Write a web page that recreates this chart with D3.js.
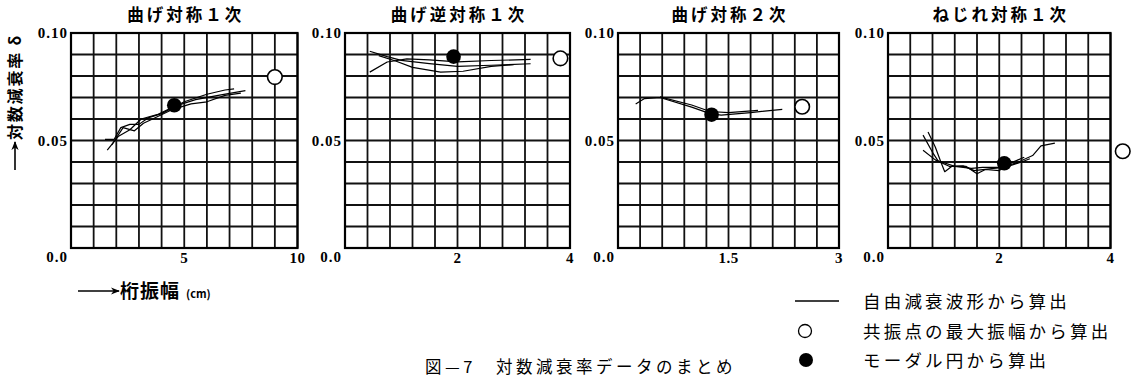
<!DOCTYPE html>
<html>
<head>
<meta charset="utf-8">
<script src="https://cdn.jsdelivr.net/npm/d3@7"></script>
<style>
  html, body { margin: 0; padding: 0; background: #fff; }
  svg { display: block; }
  .jp { font-family: "Noto Sans CJK JP", sans-serif; }
  .num { font-family: "Liberation Serif", "DejaVu Serif", serif; font-weight: bold; }
</style>
</head>
<body>
<svg id="chart" width="1134" height="379"></svg>
<script>
// Mode names, one per panel
const titles = ["曲げ対称１次", "曲げ逆対称１次", "曲げ対称２次", "ねじれ対称１次"];
// Upper end of each panel's girder-amplitude axis (cm)
const xMaxes = [10, 4, 3, 4];
// Labels shown at the middle and right edge of each x axis
const xTickLabels = [["5", "10"], ["2", "4"], ["1.5", "3"], ["2", "4"]];
// Log-decrement axis labels (bottom, middle, top)
const yTickLabels = ["0.0", "0.05", "0.10"];

// Free-decay waveform results: [amplitude, δ] polylines per panel
const freeDecay1 = [
  [[1.6, 0.0455], [2.1, 0.052], [2.6, 0.055], [3.1, 0.060], [3.8, 0.062], [4.6, 0.066], [5.5, 0.069], [6.5, 0.071], [7.7, 0.0732]],
  [[1.5, 0.0505], [1.9, 0.0505], [2.2, 0.056], [2.6, 0.0575], [3.0, 0.0575], [3.4, 0.0605], [4.0, 0.0625], [5.0, 0.068], [6.0, 0.0715], [6.8, 0.0735], [7.2, 0.074]],
  [[1.8, 0.048], [2.3, 0.056], [2.8, 0.0545], [3.2, 0.058], [3.6, 0.060], [4.5, 0.0645], [5.3, 0.067], [6.0, 0.068], [6.8, 0.071], [7.5, 0.072]]
];
const freeDecay2 = [
  [[0.44, 0.0915], [0.75, 0.089], [1.0, 0.0873], [1.5, 0.0858], [2.0, 0.0845], [2.6, 0.085], [3.3, 0.0857]],
  [[0.44, 0.0818], [0.75, 0.0865], [1.1, 0.088], [1.5, 0.0875], [2.0, 0.0866], [2.6, 0.0872], [3.3, 0.0877]],
  [[0.6, 0.0895], [0.9, 0.087], [1.2, 0.084], [1.7, 0.0818], [2.1, 0.0822], [2.6, 0.0845], [3.0, 0.0853]]
];
const freeDecay3 = [
  [[0.24, 0.067], [0.36, 0.0695], [0.57, 0.070], [1.0, 0.0655], [1.25, 0.0625], [1.4, 0.0618], [1.8, 0.063], [2.23, 0.0645]],
  [[0.57, 0.0703], [1.0, 0.0665], [1.25, 0.0635], [1.5, 0.063], [1.9, 0.064]]
];
const freeDecay4 = [
  [[0.72, 0.054], [0.85, 0.047], [0.95, 0.040], [1.02, 0.0355], [1.15, 0.038], [1.4, 0.038], [1.6, 0.0345], [1.75, 0.0365], [2.0, 0.036], [2.2, 0.0395], [2.45, 0.0422]],
  [[0.63, 0.0525], [0.8, 0.0445], [0.9, 0.0405], [1.2, 0.038], [1.5, 0.037], [1.7, 0.0375], [2.0, 0.0375], [2.3, 0.0395], [2.6, 0.043], [2.75, 0.0475], [3.0, 0.0488]],
  [[0.63, 0.0455], [0.85, 0.041], [1.1, 0.038], [1.35, 0.0382], [1.55, 0.036], [1.9, 0.037], [2.1, 0.0375], [2.4, 0.040], [2.55, 0.0415]]
];
const freeDecay = [freeDecay1, freeDecay2, freeDecay3, freeDecay4];

// Maximum amplitude at resonance (open circles)
const resonancePoints = [[9.0, 0.0795], [3.83, 0.0882], [2.5, 0.0657], [4.22, 0.045]];
// Modal circle fit (filled circles)
const modalPoints = [[4.56, 0.0664], [1.93, 0.089], [1.27, 0.062], [2.09, 0.0394]];

// Legend entries
const legendTexts = ["自由減衰波形から算出", "共振点の最大振幅から算出", "モーダル円から算出"];
const captionText = "図—7　対数減衰率データのまとめ";
const xAxisTitle = "桁振幅";
const xAxisUnit = "(cm)";
const yAxisTitle = "対数減衰率 δ";

// ---------------- layout ----------------
const svg = d3.select("#chart");
const panelLefts = [71, 345, 618, 888];
const panelWidths = [226.5, 225, 221, 222.5];
const plotTop = 33, plotBottom = 248;

const y = d3.scaleLinear().domain([0, 0.1]).range([plotBottom, plotTop]);
const lineGen = d3.line();

// arrow marker
const defs = svg.append("defs");
defs.append("marker")
  .attr("id", "arrow").attr("viewBox", "0 0 10 10")
  .attr("refX", 9).attr("refY", 5)
  .attr("markerWidth", 9).attr("markerHeight", 9)
  .attr("markerUnits", "userSpaceOnUse")
  .attr("orient", "auto")
  .append("path").attr("d", "M0,1 L10,5 L0,9 L3,5 Z").attr("fill", "#000");

titles.forEach((title, i) => {
  const x0 = panelLefts[i], w = panelWidths[i];
  const x = d3.scaleLinear().domain([0, xMaxes[i]]).range([x0, x0 + w]);
  const g = svg.append("g");

  // grid: 10 x 10 cells
  const xGrid = d3.range(0, 11).map(k => xMaxes[i] * k / 10);
  const yGrid = d3.range(0, 11).map(k => 0.01 * k);
  g.selectAll(".vg").data(xGrid).join("line")
    .attr("x1", d => x(d)).attr("x2", d => x(d))
    .attr("y1", plotTop).attr("y2", plotBottom)
    .attr("stroke", "#111").attr("stroke-width", 1.8);
  g.selectAll(".hg").data(yGrid).join("line")
    .attr("x1", x0).attr("x2", x0 + w)
    .attr("y1", d => y(d)).attr("y2", d => y(d))
    .attr("stroke", "#111").attr("stroke-width", 1.8);
  g.append("rect")
    .attr("x", x0).attr("y", plotTop).attr("width", w).attr("height", plotBottom - plotTop)
    .attr("fill", "none").attr("stroke", "#000").attr("stroke-width", 2.2);

  // y tick labels
  const yVals = [0, 0.05, 0.1];
  g.selectAll(".yl").data(yVals).join("text")
    .attr("class", "num")
    .attr("font-family", "Liberation Serif")
    .attr("x", x0 - 3)
    .attr("y", (d, k) => k === 0 ? y(d) + 14 : y(d) + 5)
    .attr("text-anchor", "end")
    .attr("font-size", 15)
    .attr("letter-spacing", 1)
    .text((d, k) => yTickLabels[k]);

  // x tick labels (middle and right end)
  const xVals = [xMaxes[i] / 2, xMaxes[i]];
  g.selectAll(".xl").data(xVals).join("text")
    .attr("class", "num")
    .attr("font-family", "Liberation Serif")
    .attr("x", d => x(d))
    .attr("y", plotBottom + 15)
    .attr("text-anchor", "middle")
    .attr("font-size", 15)
    .attr("letter-spacing", 0.5)
    .text((d, k) => xTickLabels[i][k]);

  // title
  g.append("text")
    .attr("class", "jp")
    .attr("x", x0 + w / 2 + 1.5)
    .attr("y", 21)
    .attr("text-anchor", "middle")
    .attr("font-size", 16.5)
    .attr("font-weight", "bold")
    .attr("letter-spacing", 3)
    .text(title);

  // free-decay polylines
  g.selectAll(".fd").data(freeDecay[i]).join("path")
    .attr("d", d => lineGen(d.map(p => [x(p[0]), y(p[1])])))
    .attr("fill", "none").attr("stroke", "#000").attr("stroke-width", 1.2)
    .attr("stroke-linejoin", "round");

  // resonance maximum amplitude (open circle)
  g.append("circle")
    .attr("cx", x(resonancePoints[i][0])).attr("cy", y(resonancePoints[i][1]))
    .attr("r", 7.3)
    .attr("fill", "#fff").attr("stroke", "#000").attr("stroke-width", 1.6);

  // modal circle (filled)
  g.append("circle")
    .attr("cx", x(modalPoints[i][0])).attr("cy", y(modalPoints[i][1]))
    .attr("r", 7.3)
    .attr("fill", "#000");
});

// y axis title (vertical, reading upward with an arrow)
const yt = svg.append("g").attr("transform", "translate(15,100) rotate(-90)");
yt.append("line")
  .attr("x1", -70).attr("x2", -42).attr("y1", 0).attr("y2", 0)
  .attr("stroke", "#000").attr("stroke-width", 1.6)
  .attr("marker-end", "url(#arrow)");
yt.append("text")
  .attr("class", "jp")
  .attr("x", -40).attr("y", 6)
  .attr("font-size", 16).attr("font-weight", "bold")
  .attr("letter-spacing", 1.8)
  .text(yAxisTitle);

// x axis title
svg.append("line")
  .attr("x1", 78).attr("x2", 119).attr("y1", 291).attr("y2", 291)
  .attr("stroke", "#000").attr("stroke-width", 1.6)
  .attr("marker-end", "url(#arrow)");
const xt = svg.append("text").attr("class", "jp").attr("x", 120).attr("y", 298);
xt.append("tspan").attr("font-size", 19).attr("font-weight", "bold").attr("letter-spacing", 1).text(xAxisTitle);
xt.append("tspan").attr("dx", 6).attr("font-size", 11).attr("font-weight", "bold").text(xAxisUnit);

// legend
const legendRows = [301, 331, 360];
svg.append("line")
  .attr("x1", 795).attr("x2", 839).attr("y1", legendRows[0]).attr("y2", legendRows[0])
  .attr("stroke", "#000").attr("stroke-width", 1.5);
svg.append("circle").attr("cx", 805).attr("cy", legendRows[1]).attr("r", 6.5)
  .attr("fill", "#fff").attr("stroke", "#000").attr("stroke-width", 1.3);
svg.append("circle").attr("cx", 806).attr("cy", legendRows[2]).attr("r", 7)
  .attr("fill", "#000");
svg.selectAll(".lt").data(legendTexts).join("text")
  .attr("class", "jp")
  .attr("x", 863)
  .attr("y", (d, k) => legendRows[k] + 6.5)
  .attr("font-size", 17.5)
  .attr("letter-spacing", 3.2)
  .text(d => d);

// caption
svg.append("text")
  .attr("class", "jp")
  .attr("x", 425).attr("y", 373)
  .attr("font-size", 16.5)
  .attr("letter-spacing", 3.5)
  .text(captionText);
</script>
</body>
</html>
